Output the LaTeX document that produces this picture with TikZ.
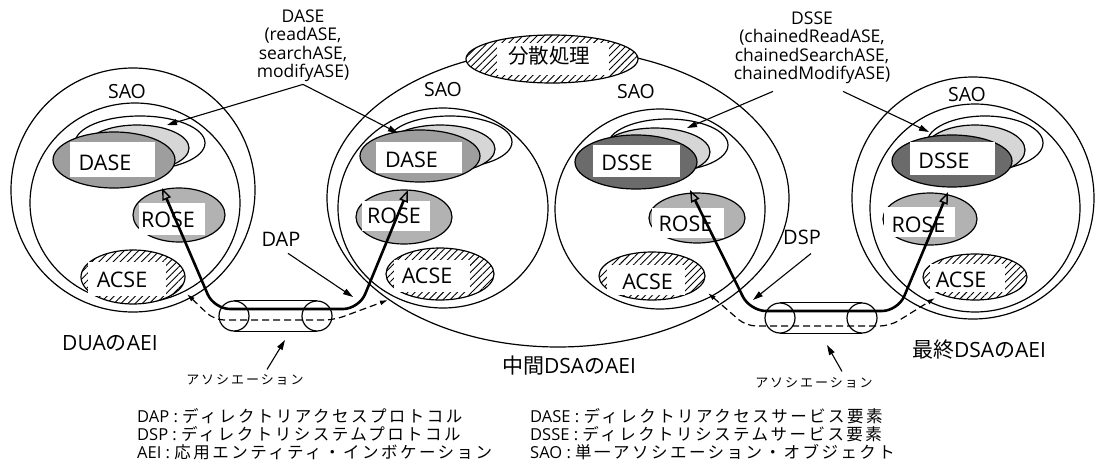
\documentclass[tikz,border=0pt]{standalone}
\usepackage{fontspec}
\setmainfont{Open Sans}
\newfontfamily\jp{Noto Sans CJK JP}
\newfontfamily\jpl{Noto Sans CJK JP}[LetterSpace=15]
\usetikzlibrary{shapes.geometric,patterns.meta,arrows.meta}
\definecolor{lt}{gray}{0.84}
\definecolor{md}{gray}{0.62}
\definecolor{dk}{gray}{0.42}
\definecolor{rs}{gray}{0.70}
\begin{document}
\begin{tikzpicture}[x=1pt,y=-1pt,
  ov/.style={ellipse, draw, line width=1.2pt, inner sep=0pt, outer sep=0pt},
  hatch/.style={preaction={fill=white}, pattern={Lines[angle=45,distance=5pt,line width=0.9pt]}},
  wbox/.style={rectangle, fill=white, inner sep=0pt, outer sep=0pt},
  big/.style={inner sep=0pt, font=\fontsize{21.5}{21.5}\selectfont},
  sao/.style={inner sep=0pt, font=\fontsize{19.5}{19.5}\selectfont},
  toplab/.style={inner sep=0pt, align=center, font=\fontsize{17.5}{18.5}\selectfont},
  mid/.style={inner sep=0pt, font=\fontsize{20}{20}\selectfont},
  aeil/.style={inner sep=0pt, font=\fontsize{21}{21}\selectfont},
  jpbig/.style={inner sep=0pt, font=\jp\fontsize{20.5}{20.5}\selectfont},
  small/.style={inner sep=0pt, font=\jpl\fontsize{13}{13}\selectfont},
  legend/.style={inner sep=0pt, align=left, anchor=west, font=\fontsize{16.5}{18.3}\selectfont},
  tube/.style={circle, draw, line width=1.2pt, inner sep=0pt, minimum size=30},
  ln/.style={line width=1.2pt},
  dapline/.style={line width=2.6pt, rounded corners=16pt, line join=round,
    {Triangle[open,length=12pt,width=9pt,line width=1.4pt]}-{Triangle[open,length=12pt,width=9pt,line width=1.4pt]}},
  dline/.style={line width=1.2pt, dash pattern=on 7pt off 4pt, rounded corners=10pt,
    {Latex[length=8pt,width=5pt]}-{Latex[length=8pt,width=5pt]}},
  arr/.style={line width=1.1pt, -{Triangle[length=10pt,width=6pt]}}
]
\useasboundingbox (0,0) rectangle (1096,474);

% ================= left AEI (DUA)
\node[ov, minimum width=244, minimum height=244] (Lout) at (133,190) {};
\node[ov, minimum width=210, minimum height=200] (Lin) at (135,203) {};
\node[sao] (Lsao) at (127,92) {SAO};
\node[ov, fill=white, minimum width=130, minimum height=54] (Lback) at (140,143) {};
\node[ov, fill=lt, minimum width=104, minimum height=46] (Lmid) at (137,148) {};
\node[ov, fill=md, minimum width=122, minimum height=56] (Lfront) at (114,160) {};
\node[wbox, minimum width=85, minimum height=35] (Lbox) at (112.5,159.5) {};
\node[big] (Ldase) at (105,163) {DASE};
\node[ov, fill=rs, minimum width=92, minimum height=54] (Lrose) at (179,215) {};
\node[wbox, minimum width=66, minimum height=32] (Lrosebox) at (172,219) {};
\node[big] (Lrosetx) at (168,220) {ROSE};
\node[ov, hatch, minimum width=104, minimum height=54] (Lacse) at (133,277) {};
\node[wbox, minimum width=78, minimum height=34] (Lacsebox) at (127,279) {};
\node[big] (Lacsetx) at (122,280) {ACSE};
\node[aeil] (Llab) at (110,343) {DUA{\jp の}AEI};

% ================= middle AEI
\node[ov, minimum width=462, minimum height=298] (Mbig) at (558,198) {};
\node[ov, minimum width=210, minimum height=200] (M1in) at (443,208) {};
\node[ov, minimum width=210, minimum height=200] (M2in) at (660,209) {};
\node[sao] (M1sao) at (443,90) {SAO};
\node[sao] (M2sao) at (636,92) {SAO};
\node[ov, hatch, minimum width=172, minimum height=48] (Mdist) at (552,59) {};
\node[wbox, minimum width=112, minimum height=32] (Mdistbox) at (553,59) {};
\node[jpbig] (Mdisttx) at (549,56) {分散処理};
% DASE group
\node[ov, fill=white, minimum width=124, minimum height=52] (M1back) at (450,142) {};
\node[ov, fill=lt, minimum width=110, minimum height=48] (M1mid) at (440,149) {};
\node[ov, fill=md, minimum width=120, minimum height=52] (M1front) at (420,156) {};
\node[wbox, minimum width=86, minimum height=31] (M1box) at (419,157.5) {};
\node[big] (M1dase) at (411.5,159.5) {DASE};
\node[ov, fill=rs, minimum width=96, minimum height=54] (M1rose) at (404,217) {};
\node[wbox, minimum width=68, minimum height=30] (M1rosebox) at (396,216) {};
\node[big] (M1rosetx) at (394,216) {ROSE};
\node[ov, hatch, minimum width=108, minimum height=52] (M1acse) at (440,274) {};
\node[wbox, minimum width=76, minimum height=32] (M1acsebox) at (432,276) {};
\node[big] (M1acsetx) at (427,276) {ACSE};
% DSSE group
\node[ov, fill=white, minimum width=120, minimum height=52] (M2back) at (668,145) {};
\node[ov, fill=lt, minimum width=110, minimum height=48] (M2mid) at (655,152) {};
\node[ov, fill=dk, minimum width=122, minimum height=54] (M2front) at (636,162) {};
\node[wbox, minimum width=87, minimum height=32] (M2box) at (636.5,161) {};
\node[big] (M2dsse) at (627,163) {DSSE};
\node[ov, fill=rs, minimum width=96, minimum height=50] (M2rose) at (697,218) {};
\node[wbox, minimum width=72, minimum height=30] (M2rosebox) at (688,223) {};
\node[big] (M2rosetx) at (685.5,224) {ROSE};
\node[ov, hatch, minimum width=106, minimum height=48] (M2acse) at (652,276) {};
\node[wbox, minimum width=78, minimum height=30] (M2acsebox) at (646,280) {};
\node[big] (M2acsetx) at (647.5,282) {ACSE};
\node[aeil] (Mlab) at (569,366) {{\jp 中間}DSA{\jp の}AEI};

% ================= right AEI (final DSA)
\node[ov, minimum width=242, minimum height=242] (Rout) at (973,198) {};
\node[ov, minimum width=210, minimum height=208] (Rin) at (975,208) {};
\node[sao] (Rsao) at (967,95) {SAO};
\node[ov, fill=white, minimum width=116, minimum height=54] (Rback) at (985,143) {};
\node[ov, fill=lt, minimum width=100, minimum height=50] (Rmid) at (975,150) {};
\node[ov, fill=dk, minimum width=120, minimum height=52] (Rfront) at (952,161) {};
\node[wbox, minimum width=85, minimum height=33] (Rbox) at (952.5,158.5) {};
\node[big] (Rdsse) at (944,161) {DSSE};
\node[ov, fill=rs, minimum width=94, minimum height=52] (Rrose) at (930,219) {};
\node[wbox, minimum width=71, minimum height=30] (Rrosebox) at (919.5,222) {};
\node[big] (Rrosetx) at (918.5,225) {ROSE};
\node[ov, hatch, minimum width=104, minimum height=46] (Racse) at (975,277) {};
\node[wbox, minimum width=75, minimum height=28] (Racsebox) at (967.5,278) {};
\node[big] (Racsetx) at (961,279.5) {ACSE};
\node[aeil] (Rlab) at (979,350) {{\jp 最終}DSA{\jp の}AEI};

% ================= tubes (associations)
\node[tube] (T1a) at (234,316) {};
\node[tube] (T1b) at (317,316) {};
\draw[ln] (T1a.north) -- (T1b.north);
\draw[ln] (T1a.south) -- (T1b.south);
\node[tube] (T2a) at (780,318) {};
\node[tube] (T2b) at (862,318) {};
\draw[ln] (T2a.north) -- (T2b.north);
\draw[ln] (T2a.south) -- (T2b.south);

% ================= DAP / DSP paths
\coordinate (tA) at (162,188);
\coordinate (tB) at (408,190);
\draw[dapline] (tA) -- (214,309) -- (359,309) -- (tB);
\coordinate (tC) at (690,190);
\coordinate (tD) at (948,192);
\draw[dapline] (tC) -- (750,311) -- (898,311) -- (tD);

\coordinate (dA) at (187,294);
\coordinate (dB) at (388,300);
\draw[dline] (dA) -- (214,320) -- (334,320) -- (dB);
\coordinate (dC) at (708,293);
\coordinate (dD) at (935,298);
\draw[dline] (dC) -- (746,326) -- (890,326) -- (dD);

\node[mid] (dap) at (281,239) {DAP};
\coordinate (dapT) at (353,297);
\draw[arr] ([xshift=7pt,yshift=-7pt]dap.south) -- (dapT);
\node[mid] (dsp) at (802,237) {DSP};
\coordinate (dspT) at (753,300);
\draw[arr] ([xshift=9pt,yshift=-9pt]dsp.south) -- (dspT);

% association labels
\node[small] (as1) at (245,380) {アソシエーション};
\coordinate (as1T) at (285,340);
\draw[arr] ([xshift=22pt,yshift=5pt]as1.north) -- (as1T);
\node[small] (as2) at (814,383) {アソシエーション};
\coordinate (as2T) at (827,345);
\draw[arr] ([xshift=28pt,yshift=6pt]as2.north) -- (as2T);

% ================= top labels
\node[toplab] (daselab) at (303,46) {DASE\\(readASE,\\searchASE,\\modifyASE)};
\coordinate (lt1) at (167,125);
\coordinate (lt2) at (398,133);
\draw[arr] ([yshift=-2pt]daselab.south) -- (lt1);
\draw[arr] ([yshift=-2pt]daselab.south) -- (lt2);
\node[toplab] (dsselab) at (812,48) {DSSE\\(chainedReadASE,\\chainedSearchASE,\\chainedModifyASE)};
\coordinate (lt3) at (687,128);
\coordinate (lt4) at (929,132);
\draw[arr] ([xshift=-39pt,yshift=-7pt]dsselab.south) -- (lt3);
\draw[arr] ([xshift=31pt,yshift=-7pt]dsselab.south) -- (lt4);

% ================= legend
\node[legend] (leg1) at (137,434) {DAP : {\jpl ディレクトリアクセスプロトコル}\\DSP : {\jpl ディレクトリシステムプロトコル}\\AEI : {\jpl 応用エンティティ・インボケーション}};
\node[legend] (leg2) at (530,434) {DASE : {\jpl ディレクトリアクセスサービス要素}\\DSSE : {\jpl ディレクトリシステムサービス要素}\\SAO : {\jpl 単一アソシエーション・オブジェクト}};
\end{tikzpicture}
\end{document}
